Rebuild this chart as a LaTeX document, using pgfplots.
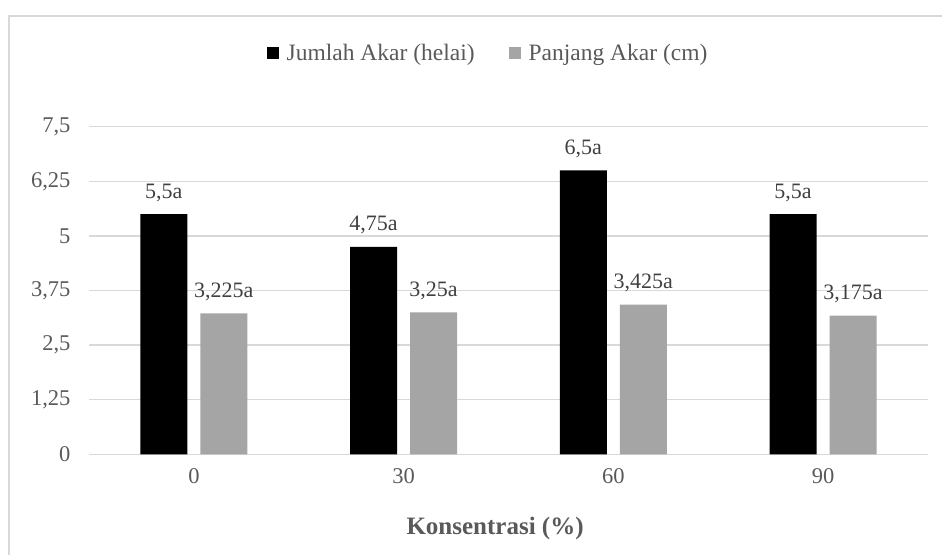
\documentclass[border=0pt]{standalone}
\usepackage{fontspec}
\setmainfont{Liberation Serif}
\usepackage{pgfplots}
\pgfplotsset{compat=1.18}
\usepackage{pgfplotstable}

\definecolor{gridgray}{HTML}{D9D9D9}
\definecolor{bargray}{HTML}{A5A5A5}
\definecolor{labelgray}{HTML}{595959}
\definecolor{valgray}{HTML}{404040}

% Root data per concentration (%): number of roots and root length (cm)
\pgfplotstableread{
x jumlah panjang
0 5.5  3.225
1 4.75 3.25
2 6.5  3.425
3 5.5  3.175
}\akar

\newcommand\basefont{\fontsize{22.5pt}{26pt}\selectfont}
\newcommand\valfont{\fontsize{22pt}{26pt}\selectfont}
\newcommand\legfont{\fontsize{23.5pt}{27pt}\selectfont}
\newcommand\titlefont{\fontsize{25pt}{29pt}\selectfont\bfseries}

\begin{document}
\begin{tikzpicture}[x=1pt,y=1pt]
\useasboundingbox (0,0) rectangle (942,554);
% chart frame
\draw[gridgray, line width=1.5pt] (9,-20) rectangle (990,538);
\begin{axis}[
  at={(89pt,99.7pt)}, anchor=south west,
  scale only axis, width=839pt, height=327.6pt,
  xmin=-0.5, xmax=3.5, ymin=0, ymax=7.5,
  ybar, bar width=47pt,
  axis line style={draw=none},
  major tick length=0pt,
  ymajorgrids, grid style={gridgray, line width=1.3pt},
  xtick={0,1,2,3}, xticklabels={0,30,60,90},
  ytick={0,1.25,2.5,3.75,5,6.25,7.5},
  yticklabels={0,{1,25},{2,5},{3,75},5,{6,25},{7,5}},
  tick label style={font=\basefont, text=labelgray},
  xticklabel style={yshift=-11pt},
  yticklabel style={xshift=-15pt},
  xlabel={Konsentrasi (\%)},
  x label style={font=\titlefont, text=labelgray,
    at={(axis description cs:0.484,-0.225)}, anchor=center},
  legend columns=2,
  legend style={at={(axis description cs:0.4756,1.225)}, anchor=center,
    draw=none, fill=none, font=\legfont, text=labelgray,
    column sep=6pt},
  legend image code/.code={\fill[#1] (0pt,-6pt) rectangle (12pt,6pt);},
  point meta=y,
  nodes near coords={\pgfmathprintnumber{\pgfplotspointmeta}a},
  every node near coord/.append style={font=\valfont, text=valgray,
    anchor=base, yshift=16pt, inner sep=0pt},
  /pgf/number format/use comma,
  /pgf/number format/precision=3,
  /pgf/number format/assume math mode=true,
]
\addplot[fill=black, draw=none, bar shift=-30pt] table[x=x, y=jumlah] {\akar};
\addlegendentry{Jumlah Akar (helai)\rule{26pt}{0pt}}
\addplot[fill=bargray, draw=none, bar shift=30pt] table[x=x, y=panjang] {\akar};
\addlegendentry{Panjang Akar (cm)}
\end{axis}
\end{tikzpicture}
\end{document}
